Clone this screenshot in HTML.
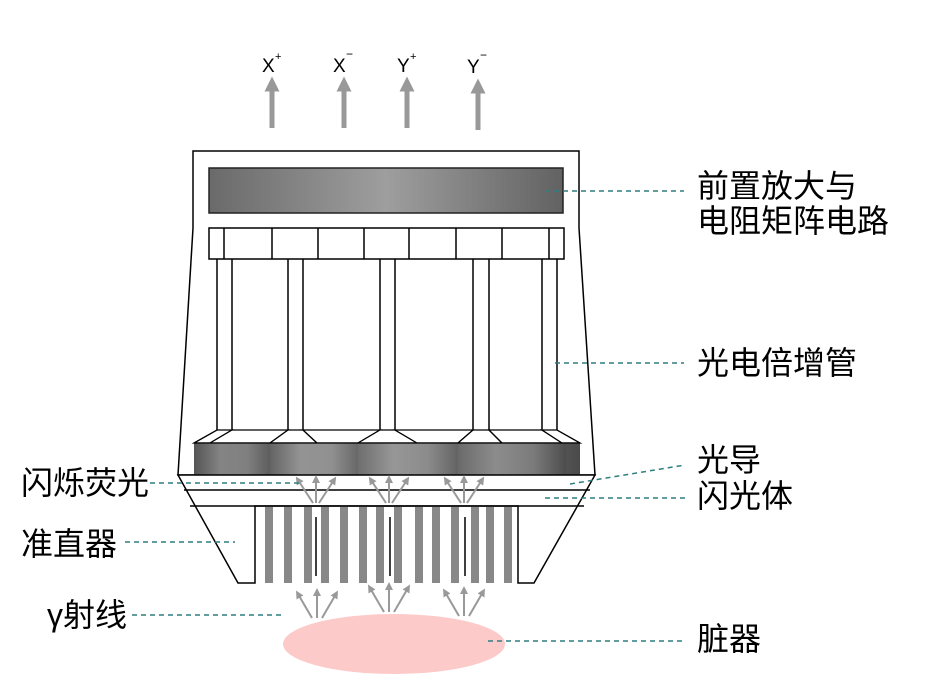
<!DOCTYPE html>
<html><head><meta charset="utf-8"><style>
html,body{margin:0;padding:0;background:#fff;}
svg text{font-family:"Liberation Sans","Noto Sans CJK SC",sans-serif;fill:#000;}
</style></head><body>
<svg width="941" height="689" viewBox="0 0 941 689" xmlns="http://www.w3.org/2000/svg">
<defs>
<linearGradient id="gb" x1="0" x2="1" y1="0" y2="0">
<stop offset="0" stop-color="#6a6a6a"/><stop offset="0.5" stop-color="#9e9e9e"/><stop offset="1" stop-color="#626262"/>
</linearGradient>
<linearGradient id="cyl" x1="0" x2="1" y1="0" y2="0">
<stop offset="0" stop-color="#555"/><stop offset="0.35" stop-color="#9a9a9a"/><stop offset="0.7" stop-color="#8a8a8a"/><stop offset="1" stop-color="#4a4a4a"/>
</linearGradient>
<marker id="ah" viewBox="0 0 10 10" refX="5" refY="5" markerWidth="4" markerHeight="4" orient="auto"><path d="M0,0 L10,5 L0,10 z" fill="#999"/></marker>
<marker id="ah2" viewBox="0 0 10 10" refX="5" refY="5" markerWidth="3" markerHeight="5" orient="auto"><path d="M0,0 L10,5 L0,10 z" fill="#999"/></marker>
</defs>

<g stroke="#999" stroke-width="5">
<line x1="272" y1="128" x2="272" y2="84" marker-end="url(#ah2)"/>
<line x1="344" y1="128" x2="344" y2="84" marker-end="url(#ah2)"/>
<line x1="407" y1="128" x2="407" y2="84" marker-end="url(#ah2)"/>
<line x1="478" y1="130" x2="478" y2="86" marker-end="url(#ah2)"/>
</g>
<g font-size="19">
<text x="262" y="72">X</text><text x="275" y="60" font-size="11">+</text>
<text x="333" y="72">X</text><text x="346" y="58" font-size="12">−</text>
<text x="397" y="72">Y</text><text x="410" y="60" font-size="11">+</text>
<text x="467" y="73">Y</text><text x="480" y="59" font-size="12">−</text>
</g>

<path d="M193,228 L193,151 L579,151 L579,228 L595,475 L178,475 Z" fill="#fff" stroke="#000" stroke-width="1.5"/>
<rect x="209" y="168" width="354" height="45" fill="url(#gb)" stroke="#222" stroke-width="1.5"/>
<rect x="209" y="228" width="355" height="31" fill="#fff" stroke="#000" stroke-width="1.5"/>
<g stroke="#000" stroke-width="1.5">
<line x1="224" y1="228" x2="224" y2="259"/><line x1="272" y1="228" x2="272" y2="259"/>
<line x1="318" y1="228" x2="318" y2="259"/><line x1="364" y1="228" x2="364" y2="259"/>
<line x1="409" y1="228" x2="409" y2="259"/><line x1="456" y1="228" x2="456" y2="259"/>
<line x1="502" y1="228" x2="502" y2="259"/><line x1="549" y1="228" x2="549" y2="259"/>
<line x1="217" y1="259" x2="217" y2="430"/><line x1="232" y1="259" x2="232" y2="430"/>
<line x1="288" y1="259" x2="288" y2="430"/><line x1="303" y1="259" x2="303" y2="430"/>
<line x1="380" y1="259" x2="380" y2="430"/><line x1="395" y1="259" x2="395" y2="430"/>
<line x1="473" y1="259" x2="473" y2="430"/><line x1="489" y1="259" x2="489" y2="430"/>
<line x1="542" y1="259" x2="542" y2="430"/><line x1="557" y1="259" x2="557" y2="430"/>
</g>
<g fill="#fff" stroke="#000" stroke-width="1.3">
<path d="M194,443 L217,430 L232,430 L210,443 Z"/>
<path d="M210,443 L232,430 L288,430 L270,443 Z"/>
<path d="M270,443 L288,430 L303,430 L317,443 Z"/>
<path d="M317,443 L303,430 L380,430 L358,443 Z"/>
<path d="M358,443 L380,430 L395,430 L417,443 Z"/>
<path d="M417,443 L395,430 L473,430 L458,443 Z"/>
<path d="M458,443 L473,430 L489,430 L502,443 Z"/>
<path d="M502,443 L489,430 L542,430 L562,443 Z"/>
<path d="M562,443 L542,430 L557,430 L580,443 Z"/>
</g>
<rect x="194" y="443" width="386" height="32" fill="url(#cyl)"/>
<g opacity="0.6">
<rect x="194" y="443" width="76" height="32" fill="url(#cyl)"/>
<rect x="270" y="443" width="88" height="32" fill="url(#cyl)"/>
<rect x="358" y="443" width="100" height="32" fill="url(#cyl)"/>
<rect x="458" y="443" width="108" height="32" fill="url(#cyl)"/>
</g>
<line x1="194" y1="443" x2="580" y2="443" stroke="#000" stroke-width="1.2"/>

<path d="M178,475 L595,475 L534,583 L518,583 L518,506 L255,506 L255,583 L238,583 Z" fill="#fff" stroke="#000" stroke-width="1.5"/>
<line x1="184" y1="490" x2="590" y2="490" stroke="#000" stroke-width="1.5"/>
<line x1="190" y1="506" x2="584" y2="506" stroke="#000" stroke-width="1.5"/>

<g fill="#888">
<rect x="265" y="507" width="8" height="76"/><rect x="284" y="507" width="8" height="76"/>
<rect x="304" y="507" width="8" height="76"/><rect x="321" y="507" width="8" height="76"/>
<rect x="340" y="507" width="8" height="76"/><rect x="359" y="507" width="8" height="76"/>
<rect x="376" y="507" width="8" height="76"/><rect x="394" y="507" width="8" height="76"/>
<rect x="415" y="507" width="8" height="76"/><rect x="432" y="507" width="8" height="76"/>
<rect x="451" y="507" width="8" height="76"/><rect x="471" y="507" width="8" height="76"/>
<rect x="486" y="507" width="8" height="76"/><rect x="504" y="507" width="8" height="76"/>
</g>
<g stroke="#000" stroke-width="1.5">
<line x1="316" y1="517" x2="316" y2="576"/><line x1="390" y1="517" x2="390" y2="576"/><line x1="465" y1="517" x2="465" y2="576"/>
</g>

<g stroke="#999" stroke-width="2" marker-end="url(#ah)">
<line x1="316" y1="503" x2="316" y2="479"/><line x1="313" y1="503" x2="298" y2="480"/><line x1="319" y1="503" x2="334" y2="480"/>
<line x1="389" y1="503" x2="389" y2="479"/><line x1="386" y1="503" x2="371" y2="480"/><line x1="392" y1="503" x2="407" y2="480"/>
<line x1="464" y1="503" x2="464" y2="479"/><line x1="461" y1="503" x2="446" y2="480"/><line x1="467" y1="503" x2="482" y2="480"/>
<line x1="317" y1="618" x2="317" y2="592"/><line x1="312" y1="618" x2="298" y2="594"/><line x1="322" y1="618" x2="336" y2="594"/>
<line x1="389" y1="612" x2="389" y2="586"/><line x1="384" y1="612" x2="370" y2="588"/><line x1="394" y1="612" x2="408" y2="588"/>
<line x1="464" y1="616" x2="464" y2="590"/><line x1="459" y1="616" x2="445" y2="592"/><line x1="469" y1="616" x2="483" y2="592"/>
</g>

<ellipse cx="394" cy="644" rx="111" ry="30" fill="#fdcaca"/>

<g stroke="#2f7f80" stroke-width="1.5" stroke-dasharray="5,4" fill="none">
<line x1="545" y1="191" x2="684" y2="191"/>
<line x1="555" y1="363" x2="684" y2="363"/>
<line x1="570" y1="484" x2="685" y2="465"/>
<line x1="545" y1="498" x2="685" y2="498"/>
<line x1="150" y1="483" x2="300" y2="483"/>
<line x1="125" y1="542" x2="235" y2="542"/>
<line x1="132" y1="615" x2="282" y2="615"/>
<line x1="488" y1="641" x2="684" y2="641"/>
</g>

<g font-size="32">
<text x="697" y="197">前置放大与</text>
<text x="697" y="232">电阻矩阵电路</text>
<text x="697" y="374">光电倍增管</text>
<text x="697" y="471">光导</text>
<text x="697" y="507">闪光体</text>
<text x="697" y="650">脏器</text>
<text x="21" y="494">闪烁荧光</text>
<text x="21" y="555">准直器</text>
<text x="47" y="626">γ射线</text>
</g>
</svg>
</body></html>
